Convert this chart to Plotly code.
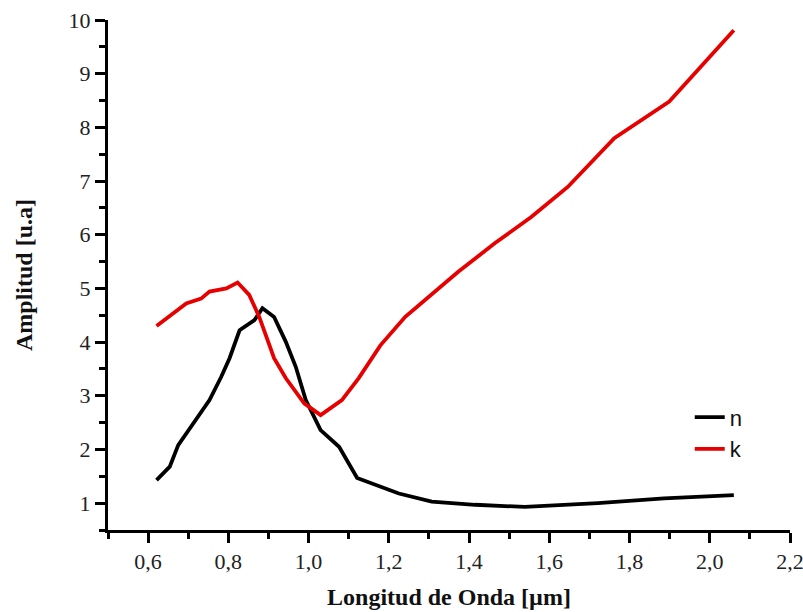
import plotly.graph_objects as go

# Wavelength (µm) and amplitude values for the refractive index n
n_wavelength = [0.621, 0.654, 0.675, 0.712, 0.753, 0.782, 0.803, 0.828, 0.865, 0.885,
                0.914, 0.943, 0.968, 0.993, 1.030, 1.076, 1.121, 1.225, 1.307, 1.415,
                1.539, 1.721, 1.886, 2.060]
n_amplitude = [1.43, 1.68, 2.08, 2.49, 2.92, 3.35, 3.70, 4.22, 4.41, 4.63,
               4.47, 4.01, 3.54, 2.92, 2.36, 2.05, 1.47, 1.18, 1.03, 0.97,
               0.93, 1.00, 1.09, 1.15]

# Wavelength (µm) and amplitude values for the extinction coefficient k
k_wavelength = [0.621, 0.662, 0.695, 0.732, 0.753, 0.795, 0.823, 0.852, 0.877, 0.914,
                0.943, 0.989, 1.030, 1.083, 1.125, 1.179, 1.241, 1.373, 1.464, 1.555,
                1.646, 1.762, 1.899, 2.060]
k_amplitude = [4.30, 4.54, 4.72, 4.81, 4.94, 5.00, 5.11, 4.88, 4.47, 3.70,
               3.33, 2.86, 2.64, 2.92, 3.33, 3.94, 4.47, 5.31, 5.84, 6.33,
               6.89, 7.80, 8.48, 9.81]

x_ticks = [0.6, 0.8, 1.0, 1.2, 1.4, 1.6, 1.8, 2.0, 2.2]
y_ticks = [1, 2, 3, 4, 5, 6, 7, 8, 9, 10]

serif = "Liberation Serif, Times New Roman, serif"

fig = go.Figure()
fig.add_trace(go.Scatter(x=n_wavelength, y=n_amplitude, mode="lines", name="n",
                         line=dict(color="#000000", width=3.8), legendgroup="n"))
fig.add_trace(go.Scatter(x=k_wavelength, y=k_amplitude, mode="lines", name="k",
                         line=dict(color="#e60000", width=3.8), legendgroup="k"))

axis_common = dict(
    showline=True, linecolor="#000000", linewidth=3,
    ticks="outside", ticklen=10, tickwidth=3, tickcolor="#000000",
    showgrid=False, zeroline=False, mirror=False,
    ticklabeloverflow="allow",
    tickfont=dict(family=serif, size=22, color="#222222"),
)

fig.update_xaxes(
    range=[0.5, 2.2], tickvals=x_ticks, tickformat=".1f",
    minor=dict(dtick=0.1, tick0=0.5, ticklen=6, tickwidth=3, tickcolor="#000000", ticks="outside"),
    title=dict(text="<b>Longitud de Onda [µm]</b>", font=dict(family=serif, size=24, color="#111111"),
               standoff=15),
    **axis_common,
)
fig.update_yaxes(
    range=[0.5, 10], tickvals=y_ticks,
    minor=dict(dtick=0.5, tick0=0.5, ticklen=6, tickwidth=3, tickcolor="#000000", ticks="outside"),
    title=dict(text="<b>Amplitud [u.a]</b>", font=dict(family=serif, size=24, color="#111111"),
               standoff=30),
    **axis_common,
)

fig.update_layout(
    width=803, height=612,
    margin=dict(l=108, r=13, t=20, b=82, autoexpand=False),
    paper_bgcolor="#ffffff", plot_bgcolor="#ffffff",
    separators=",.",
    showlegend=True,
    legend=dict(x=0.853, y=0.262, xanchor="left", yanchor="top",
                bgcolor="rgba(0,0,0,0)", tracegroupgap=0,
                font=dict(family="Liberation Sans, Arial, sans-serif", size=22, color="#111111")),
)

fig.write_html("out.html")
